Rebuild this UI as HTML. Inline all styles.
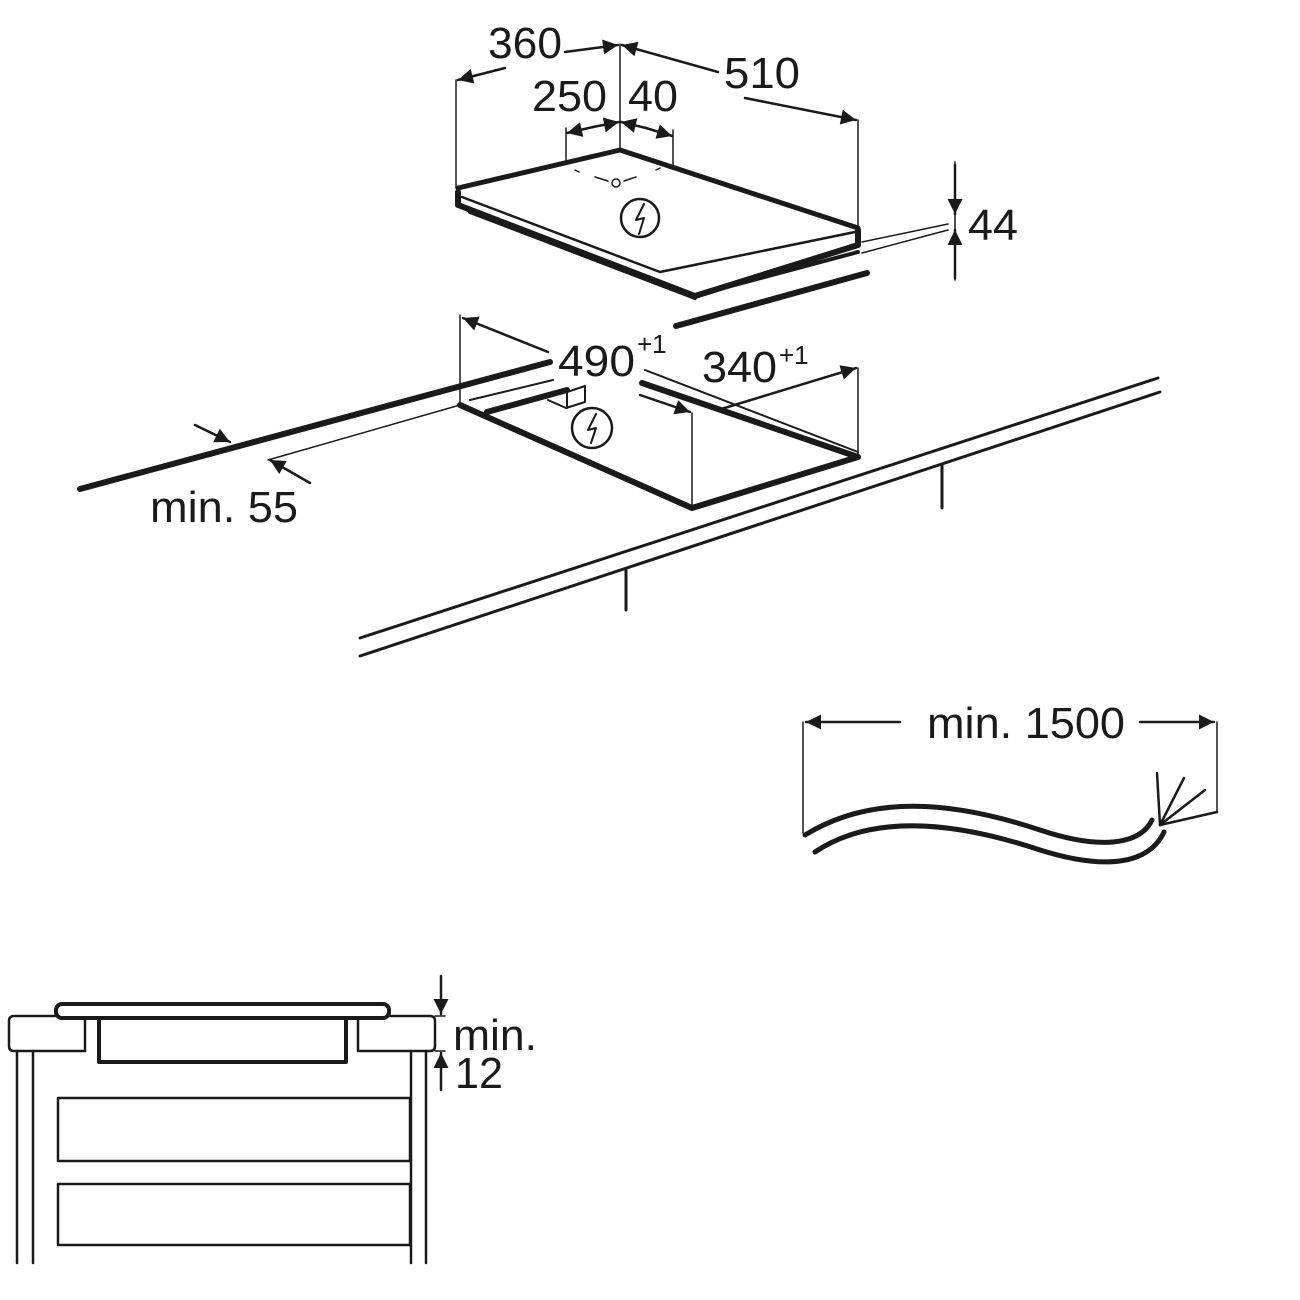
<!DOCTYPE html>
<html><head><meta charset="utf-8"><style>
body{margin:0;background:#fff}
svg{display:block}
text{font-family:"Liberation Sans",sans-serif;fill:#1a1a1a}
</style></head><body>
<svg width="1300" height="1300" viewBox="0 0 1300 1300" xmlns="http://www.w3.org/2000/svg">
<defs>
<marker id="a" viewBox="0 0 10 10" refX="10" refY="5" markerWidth="7" markerHeight="6" orient="auto-start-reverse"><path d="M0,0L10,5L0,10z" fill="#1a1a1a"/></marker>
</defs>
<g stroke="#1a1a1a" fill="none" stroke-linecap="round" stroke-linejoin="round">
<!-- top hob -->
<polyline points="458,188 620,150 858,228" stroke-width="5"/>
<polyline points="462,197 660,272 855,232" stroke-width="2.5"/>
<polyline points="458,192 458,205 695,296 858,245 858,230" stroke-width="6"/>
<line x1="470" y1="212" x2="695" y2="298" stroke-width="4"/>
<line x1="697" y1="295" x2="858" y2="252" stroke-width="4"/>
<circle cx="640" cy="218" r="19" stroke-width="2.5"/>
<path d="M644,204 L636,220 L644,218 L639,234" stroke-width="2"/>
<circle cx="616" cy="183" r="4" stroke-width="1.5"/>
<line x1="595" y1="177" x2="608" y2="181" stroke-width="1.5"/>
<line x1="624" y1="181" x2="636" y2="177" stroke-width="1.5"/>
<line x1="575" y1="170" x2="579" y2="172" stroke-width="1.5"/>
<line x1="656" y1="170" x2="660" y2="168" stroke-width="1.5"/>
<!-- dims top -->
<g stroke-width="1.5">
<line x1="456" y1="80" x2="456" y2="188"/>
<line x1="620" y1="44" x2="620" y2="150"/>
<line x1="858" y1="120" x2="858" y2="226"/>
<line x1="566" y1="128" x2="566" y2="160"/>
<line x1="673" y1="130" x2="673" y2="165"/>
<line x1="862" y1="242" x2="948" y2="224"/>
<line x1="862" y1="253" x2="948" y2="230"/>
<line x1="955" y1="162" x2="955" y2="280"/>
</g>
<g stroke-width="2.5" marker-end="url(#a)">
<line x1="505" y1="68" x2="458" y2="80"/>
<line x1="565" y1="52" x2="618" y2="45"/>
<line x1="718" y1="72" x2="622" y2="45"/>
<line x1="745" y1="98" x2="856" y2="120"/>
<line x1="593" y1="127" x2="567" y2="133"/>
<line x1="593" y1="127" x2="619" y2="122"/>
<line x1="646" y1="128" x2="621" y2="122"/>
<line x1="646" y1="128" x2="672" y2="136"/>
<line x1="955" y1="165" x2="955" y2="214"/>
<line x1="955" y1="278" x2="955" y2="230"/>
</g>
<!-- cutout -->
<line x1="676" y1="326" x2="867" y2="273" stroke-width="6"/>
<line x1="80" y1="489" x2="550" y2="362" stroke-width="6"/>
<line x1="268" y1="460" x2="460" y2="405" stroke-width="1.5"/>
<polyline points="460,405 692,508 858,457" stroke-width="6"/>
<line x1="642" y1="383" x2="858" y2="457" stroke-width="6"/>
<line x1="645" y1="370" x2="858" y2="452" stroke-width="2"/>
<line x1="487" y1="412" x2="567" y2="390" stroke-width="6"/>
<line x1="470" y1="400" x2="553" y2="380" stroke-width="2"/>
<path d="M548,400 L566,408 L585,402 L585,386 L567,392 L567,408" stroke-width="2"/>
<circle cx="592" cy="428" r="20" stroke-width="2.5"/>
<path d="M596,414 L588,430 L596,428 L591,443" stroke-width="2"/>
<g stroke-width="1.5">
<line x1="460" y1="315" x2="460" y2="405"/>
<line x1="858" y1="368" x2="858" y2="457"/>
<line x1="692" y1="413" x2="692" y2="508"/>
</g>
<g stroke-width="2.5" marker-end="url(#a)">
<line x1="548" y1="352" x2="463" y2="318"/>
<line x1="718" y1="410" x2="856" y2="368"/>
<line x1="640" y1="395" x2="690" y2="412"/>
<line x1="310" y1="483" x2="270" y2="460"/>
<line x1="195" y1="425" x2="230" y2="442"/>
</g>
<!-- worktop -->
<line x1="360" y1="638" x2="1158" y2="378" stroke-width="3"/>
<line x1="360" y1="656" x2="1160" y2="392" stroke-width="3"/>
<line x1="626" y1="570" x2="626" y2="610" stroke-width="3"/>
<line x1="942" y1="465" x2="942" y2="508" stroke-width="3"/>
<!-- cable -->
<path d="M805,835 C870,795 950,800 1040,830 C1100,850 1140,845 1152,820" stroke-width="5"/>
<path d="M815,852 C870,815 950,820 1040,850 C1110,872 1150,862 1164,832" stroke-width="5"/>
<g stroke-width="2.5">
<line x1="1160" y1="825" x2="1157" y2="773"/>
<line x1="1160" y1="825" x2="1184" y2="778"/>
<line x1="1160" y1="825" x2="1205" y2="790"/>
<line x1="1160" y1="825" x2="1217" y2="812"/>
</g>
<g stroke-width="1.5">
<line x1="803" y1="722" x2="803" y2="833"/>
<line x1="1217" y1="722" x2="1217" y2="812"/>
</g>
<g stroke-width="2.5" marker-end="url(#a)">
<line x1="900" y1="722" x2="806" y2="722"/>
<line x1="1140" y1="722" x2="1214" y2="722"/>
</g>
<!-- section -->
<g stroke-width="2.5">
<path d="M85,1051 L14,1051 Q9,1051 9,1046 L9,1021 Q9,1016 14,1016 L55,1016"/>
<line x1="85" y1="1020" x2="85" y2="1051"/>
<path d="M390,1016 L430,1016 Q435,1016 435,1021 L435,1046 Q435,1051 430,1051 L358,1051 L358,1020"/>
<line x1="17" y1="1051" x2="17" y2="1263"/>
<line x1="33" y1="1051" x2="33" y2="1263"/>
<line x1="411" y1="1051" x2="411" y2="1263"/>
<line x1="426" y1="1051" x2="426" y2="1263"/>
<rect x="58" y="1098" width="352" height="63"/>
<rect x="58" y="1184" width="352" height="61"/>
</g>
<rect x="56" y="1004" width="333" height="14" rx="6" stroke-width="4"/>
<path d="M99,1020 L99,1062 L346,1062 L346,1020" stroke-width="4"/>
<g stroke-width="1.5">
<line x1="435" y1="1016" x2="445" y2="1016"/>
<line x1="435" y1="1051" x2="445" y2="1051"/>
</g>
<g stroke-width="2.5" marker-end="url(#a)">
<line x1="441" y1="976" x2="441" y2="1014"/>
<line x1="441" y1="1090" x2="441" y2="1053"/>
</g>
</g>
<g font-size="44" lengthAdjust="spacingAndGlyphs">
<text x="488" y="58" textLength="74" lengthAdjust="spacingAndGlyphs">360</text>
<text x="532" y="111" textLength="75" lengthAdjust="spacingAndGlyphs">250</text>
<text x="628" y="111" textLength="50" lengthAdjust="spacingAndGlyphs">40</text>
<text x="724" y="88" textLength="76" lengthAdjust="spacingAndGlyphs">510</text>
<text x="968" y="240" textLength="50" lengthAdjust="spacingAndGlyphs">44</text>
<text x="558" y="376" textLength="77" lengthAdjust="spacingAndGlyphs">490</text>
<text x="702" y="382" textLength="75" lengthAdjust="spacingAndGlyphs">340</text>
<text x="150" y="522" textLength="148" lengthAdjust="spacingAndGlyphs">min. 55</text>
<text x="927" y="738" textLength="198" lengthAdjust="spacingAndGlyphs">min. 1500</text>
<text x="453" y="1050" textLength="84" lengthAdjust="spacingAndGlyphs">min.</text>
<text x="455" y="1088" textLength="48" lengthAdjust="spacingAndGlyphs">12</text>
</g>
<g font-size="26">
<text x="637" y="353">+1</text>
<text x="779" y="364">+1</text>
</g>
</svg>
</body></html>
